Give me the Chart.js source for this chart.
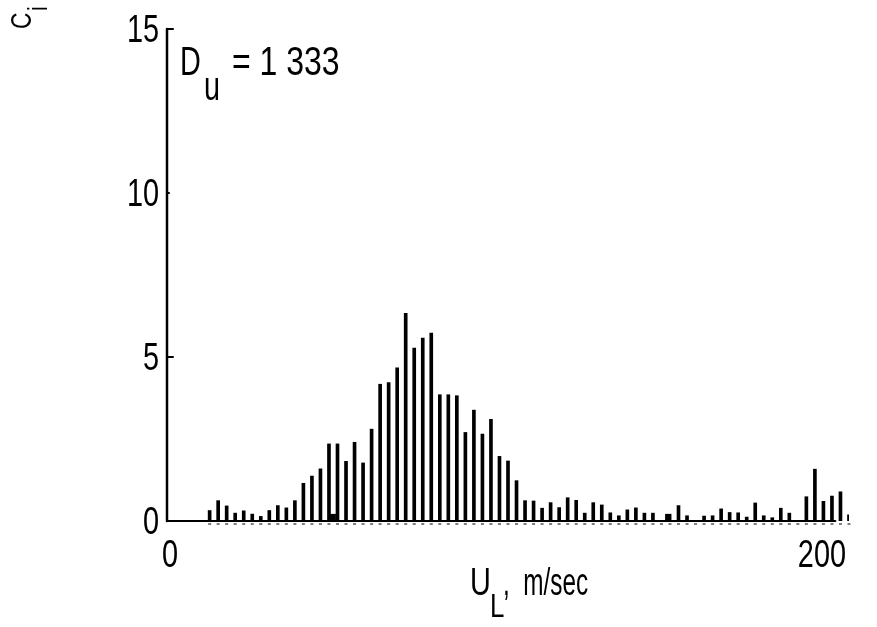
<!DOCTYPE html>
<html>
<head>
<meta charset="utf-8">
<title>Velocity distribution</title>
<script src="https://cdn.jsdelivr.net/npm/chart.js@4.4.1/dist/chart.umd.min.js"></script>
<style>
    html, body { margin: 0; padding: 0; background: #fff; }
    canvas { display: block; }
</style>
</head>
<body>
<canvas id="dist-chart" width="877" height="627"></canvas>
<script>
// Velocity bins (m/sec) and count per bin
const speeds = [
    12.5, 15, 17.5, 20, 22.5, 25, 27.5, 30, 32.5, 35, 37.5, 40, 42.5, 45, 47.5, 50,
    52.5, 55, 57.5, 60, 62.5, 65, 67.5, 70, 72.5, 75, 77.5, 80, 82.5, 85, 87.5, 90,
    92.5, 95, 97.5, 100, 102.5, 105, 107.5, 110, 112.5, 115, 117.5, 120, 122.5, 125,
    127.5, 130, 132.5, 135, 137.5, 140, 142.5, 145, 147.5, 150, 152.5, 155, 157.5, 160,
    162.5, 165, 167.5, 170, 172.5, 175, 177.5, 180, 182.5, 185, 187.5, 190, 192.5, 195,
    197.5, 200
];
const counts = [
    0.32, 0.62, 0.46, 0.24, 0.31, 0.21, 0.14, 0.32, 0.47, 0.40, 0.62, 1.15, 1.37, 1.59, 2.35, 2.35,
    1.82, 2.40, 1.77, 2.80, 4.17, 4.22, 4.67, 6.33, 5.27, 5.58, 5.73, 3.85, 3.85, 3.82, 2.70, 3.38,
    2.65, 3.10, 1.97, 1.83, 1.23, 0.62, 0.61, 0.39, 0.56, 0.41, 0.71, 0.63, 0.24, 0.56,
    0.49, 0.25, 0.16, 0.34, 0.40, 0.24, 0.24, 0, 0, 0.47, 0.16, 0, 0.15, 0.16,
    0.37, 0.26, 0.25, 0.12, 0.55, 0.16, 0.10, 0.39, 0.24, 0, 0.74, 1.58, 0.60, 0.76,
    0.89, 0.19
];
// filled markers sitting on the baseline
const markerSpeeds = [48.6, 147];
const markerCounts = [0.12, 0.12];

const xTicks = [0, 200];
const yTicks = [0, 5, 10, 15];
const sampleSize = '1 333';

const FONT = "'Liberation Sans', Arial, sans-serif";

// text squeezed horizontally, like the lettering of the original plot
function narrowText(ctx, text, x, y, size, align, squeeze) {
    ctx.save();
    ctx.font = size + 'px ' + FONT;
    ctx.textAlign = align || 'left';
    ctx.textBaseline = 'alphabetic';
    ctx.translate(x, y);
    ctx.scale(squeeze || 0.76, 1);
    ctx.fillText(text, 0, 0);
    ctx.restore();
}

// axis lines, inward ticks, tick labels and the labels with subscripts
const annotations = {
    id: 'annotations',
    afterDatasetsDraw(chart) {
        const ctx = chart.ctx;
        const x = chart.scales.x;
        const y = chart.scales.y;
        const x0 = x.getPixelForValue(0);
        const y0 = y.getPixelForValue(0);
        ctx.save();
        ctx.strokeStyle = '#000';
        ctx.fillStyle = '#000';
        ctx.lineCap = 'round';

        // axes
        ctx.lineWidth = 2.5;
        ctx.beginPath();
        ctx.moveTo(x0, y.getPixelForValue(15));
        ctx.lineTo(x0, y0);
        ctx.stroke();
        ctx.lineWidth = 2;
        ctx.beginPath();
        ctx.moveTo(x0, y0);
        ctx.lineTo(x.getPixelForValue(196), y0);
        ctx.stroke();

        // small dashes under each bin
        ctx.lineWidth = 1;
        ctx.lineCap = 'butt';
        speeds.forEach(s => {
            const px = x.getPixelForValue(s);
            ctx.beginPath();
            ctx.moveTo(px - 1.5, y0 + 3);
            ctx.lineTo(px + 1.5, y0 + 3);
            ctx.stroke();
        });
        ctx.lineCap = 'round';

        // y ticks point into the plot
        ctx.lineWidth = 2;
        y.ticks.forEach(t => {
            const py = y.getPixelForValue(t.value);
            ctx.beginPath();
            ctx.moveTo(x0, py);
            ctx.lineTo(x0 + (t.value === 10 ? 2 : 6), py);
            ctx.stroke();
            narrowText(ctx, String(t.value), x0 - 8, py + 13, 38, 'right');
        });

        // x tick labels kept inside the axis ends
        x.ticks.forEach((t, i) => {
            const px = x.getPixelForValue(t.value);
            const align = i === 0 ? 'left' : 'right';
            narrowText(ctx, String(t.value), i === 0 ? px - 5 : px - 3, 567, 38, align);
        });

        // D_u = 1333
        narrowText(ctx, 'D', 180, 75, 40, 'left', 0.72);
        narrowText(ctx, 'u', 204, 100, 40, 'left', 0.72);
        narrowText(ctx, '= ' + sampleSize, 232, 75, 40, 'left', 0.8);

        // U_L, m/sec
        narrowText(ctx, 'U', 470, 595, 38);
        narrowText(ctx, 'L', 490, 617, 34);
        narrowText(ctx, ',  m/sec', 503, 595, 38, 'left', 0.64);

        // C_i, rotated and running off the top edge
        ctx.translate(31, 29);
        ctx.rotate(-Math.PI / 2);
        narrowText(ctx, 'C', 0, 0, 30);
        narrowText(ctx, 'i', 18, 16, 28);
        ctx.restore();
    }
};

document.addEventListener('DOMContentLoaded', function () {
    const ctx = document.getElementById('dist-chart').getContext('2d');

    const bars = speeds.map((s, i) => ({ x: s, y: counts[i] }));
    const markers = markerSpeeds.map((s, i) => ({ x: s, y: markerCounts[i] }));

    new Chart(ctx, {
        type: 'bar',
        data: {
            datasets: [
                {
                    type: 'scatter',
                    data: markers,
                    pointStyle: 'rect',
                    pointRadius: 4.5,
                    backgroundColor: '#000',
                    borderColor: '#000',
                    borderWidth: 0
                },
                {
                    data: bars,
                    backgroundColor: '#000',
                    barThickness: 3,
                    borderWidth: 0
                }
            ]
        },
        options: {
            responsive: false,
            animation: false,
            devicePixelRatio: 1,
            layout: { padding: { left: 0, top: 29, right: 28, bottom: 0 } },
            plugins: {
                legend: { display: false },
                tooltip: { enabled: false }
            },
            scales: {
                x: {
                    type: 'linear',
                    min: 0,
                    max: 200,
                    offset: false,
                    grid: { display: false, drawTicks: false },
                    border: { display: false },
                    afterBuildTicks: scale => { scale.ticks = xTicks.map(v => ({ value: v })); },
                    afterFit: scale => { scale.height = 106; },
                    ticks: { display: false }
                },
                y: {
                    min: 0,
                    max: 15,
                    grid: { display: false, drawTicks: false },
                    border: { display: false },
                    afterBuildTicks: scale => { scale.ticks = yTicks.map(v => ({ value: v })); },
                    afterFit: scale => { scale.width = 167; },
                    ticks: { display: false }
                }
            }
        },
        plugins: [annotations]
    });
});
</script>
</body>
</html>
